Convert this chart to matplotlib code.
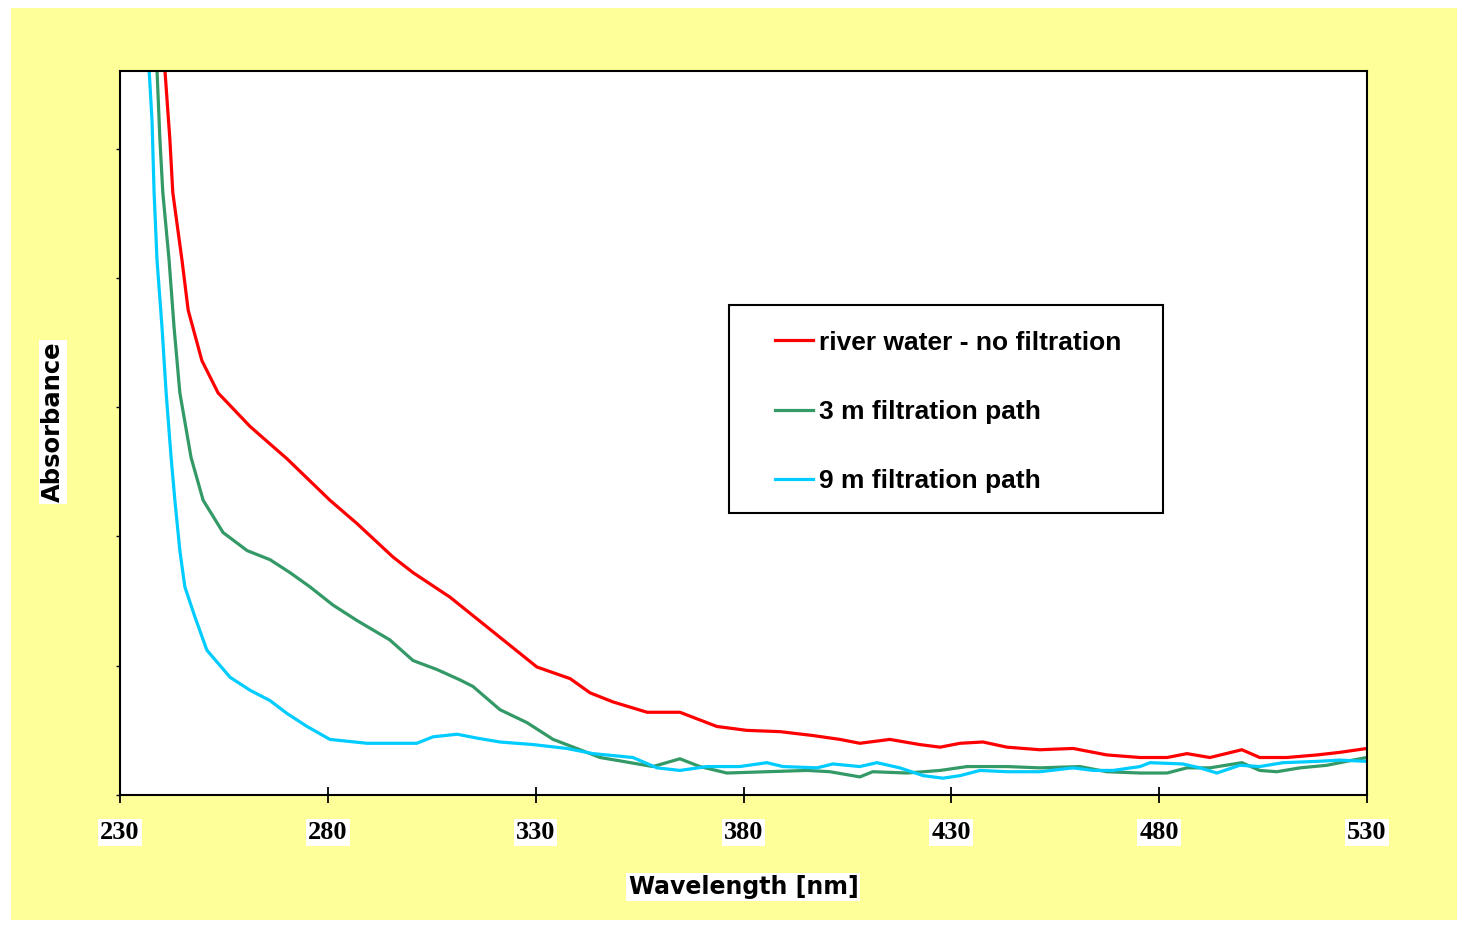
import matplotlib
matplotlib.use("Agg")
import matplotlib.pyplot as plt
from matplotlib.patches import Rectangle

# Absorbance spectra (arbitrary units, 0.1 per y tick)
wl_river = [240.3, 240.8, 242.0, 242.7, 244.9, 246.4, 249.7, 253.6, 261.3, 270.2,
            280.5, 287.0, 295.7, 300.5, 309.4, 321.4, 330.3, 338.3, 343.1, 348.6,
            356.8, 364.7, 373.6, 380.8, 388.8, 396.7, 403.2, 408.0, 415.2, 422.4,
            427.3, 432.1, 437.6, 443.4, 451.3, 459.3, 467.4, 475.4, 481.9, 486.7,
            492.2, 499.9, 504.2, 510.7, 518.0, 523.5, 530.0]
abs_river = [0.600, 0.561, 0.507, 0.466, 0.414, 0.375, 0.336, 0.311, 0.285, 0.260,
             0.228, 0.210, 0.184, 0.172, 0.153, 0.122, 0.099, 0.090, 0.079, 0.072,
             0.064, 0.064, 0.053, 0.050, 0.049, 0.046, 0.043, 0.040, 0.043, 0.039,
             0.037, 0.040, 0.041, 0.037, 0.035, 0.036, 0.031, 0.029, 0.029, 0.032,
             0.029, 0.035, 0.029, 0.029, 0.031, 0.033, 0.036]

wl_3m = [238.4, 238.9, 239.6, 240.3, 241.8, 243.0, 244.4, 247.1, 250.0, 254.8,
         260.6, 266.1, 270.9, 275.7, 281.2, 287.0, 294.9, 300.5, 306.3, 311.8,
         314.9, 321.4, 327.9, 334.2, 340.7, 345.5, 351.0, 358.2, 364.7, 369.5,
         376.0, 385.6, 395.3, 400.8, 408.0, 411.1, 419.3, 427.3, 433.8, 443.4,
         451.3, 460.9, 467.4, 475.4, 481.9, 486.7, 492.2, 499.9, 504.2, 508.3,
         513.9, 520.4, 526.6, 530.0]
abs_3m = [0.600, 0.561, 0.507, 0.466, 0.414, 0.362, 0.311, 0.261, 0.228, 0.203,
          0.189, 0.182, 0.172, 0.161, 0.147, 0.135, 0.120, 0.104, 0.097, 0.089,
          0.084, 0.066, 0.056, 0.043, 0.035, 0.029, 0.026, 0.022, 0.028, 0.022,
          0.017, 0.018, 0.019, 0.018, 0.014, 0.018, 0.017, 0.019, 0.022, 0.022,
          0.021, 0.022, 0.018, 0.017, 0.017, 0.021, 0.021, 0.025, 0.019, 0.018,
          0.021, 0.023, 0.027, 0.029]

wl_9m = [236.6, 237.0, 237.7, 238.2, 238.9, 240.1, 241.1, 242.3, 243.2, 244.4,
         245.6, 248.0, 250.9, 256.5, 261.3, 266.1, 270.2, 275.0, 280.5, 289.4,
         301.4, 305.3, 311.1, 315.9, 321.4, 329.4, 337.5, 343.8, 353.4, 359.2,
         364.7, 371.2, 379.1, 385.6, 389.5, 397.7, 401.5, 408.0, 412.1, 417.6,
         423.2, 428.0, 432.1, 436.9, 443.4, 451.3, 459.3, 464.1, 468.9, 475.4,
         477.8, 485.7, 489.8, 493.9, 499.4, 504.2, 509.8, 518.0, 523.5, 530.0]
abs_9m = [0.600, 0.561, 0.522, 0.466, 0.414, 0.362, 0.311, 0.261, 0.228, 0.189,
          0.161, 0.138, 0.112, 0.091, 0.081, 0.073, 0.063, 0.053, 0.043, 0.040,
          0.040, 0.045, 0.047, 0.044, 0.041, 0.039, 0.036, 0.032, 0.029, 0.021,
          0.019, 0.022, 0.022, 0.025, 0.022, 0.021, 0.024, 0.022, 0.025, 0.021,
          0.015, 0.013, 0.015, 0.019, 0.018, 0.018, 0.021, 0.019, 0.019, 0.022,
          0.025, 0.024, 0.021, 0.017, 0.023, 0.022, 0.025, 0.026, 0.027, 0.026]

series_labels = ["river water - no filtration", "3 m filtration path", "9 m filtration path"]
series_colors = ["#FF0000", "#339966", "#00CCFF"]
x_ticks = [230, 280, 330, 380, 430, 480, 530]
y_ticks = [0.0, 0.1, 0.2, 0.3, 0.4, 0.5]

W, H = 1457, 925
fig = plt.figure(figsize=(W / 100, H / 100), dpi=100)
fig.patch.set_facecolor("white")

# yellow chart area behind the axes
fig.add_artist(Rectangle((11 / W, 1 - 920 / H), 1 - 11 / W, (920 - 8) / H,
                         transform=fig.transFigure, facecolor="#FFFF99",
                         edgecolor="none", zorder=-10))

ax = fig.add_axes([120 / W, 1 - 795 / H, (1367 - 120) / W, (795 - 71) / H])
ax.set_zorder(1)
ax.set_facecolor("white")

for wl, ab, lab, col in zip([wl_river, wl_3m, wl_9m], [abs_river, abs_3m, abs_9m],
                            series_labels, series_colors):
    ax.plot(wl, ab, color=col, lw=2.3, label=lab, solid_joinstyle="miter")

ax.set_xlim(230, 530)
ax.set_ylim(0, 0.56)
ax.set_xticks(x_ticks)
ax.set_xticklabels([str(t) for t in x_ticks])
ax.set_yticks(y_ticks)
ax.set_yticklabels([])

for s in ax.spines.values():
    s.set_linewidth(1.5)
    s.set_color("black")

ax.tick_params(axis="x", direction="inout", length=11, width=1.3, pad=13,
               labelsize=19, colors="black")
ax.tick_params(axis="y", direction="out", length=3, width=1, colors="black")
for t in ax.get_xticklabels():
    t.set_fontfamily("Liberation Serif")
    t.set_fontweight("bold")
    t.set_bbox(dict(facecolor="white", edgecolor="none", pad=1.5))

ax.set_xlabel("Wavelength [nm]", fontsize=17, fontweight="bold", family="DejaVu Sans",
              va="center", bbox=dict(facecolor="white", edgecolor="none", pad=1.5))
ax.xaxis.set_label_coords(0.5, (795 - 887) / 724)
ax.set_ylabel("Absorbance", fontsize=17.5, fontweight="bold", family="DejaVu Sans",
              va="center", bbox=dict(facecolor="white", edgecolor="none", pad=1.5))
ax.yaxis.set_label_coords((53 - 120) / 1247, (795 - 422) / 724)

# legend box
x0, x1 = (729 - 120) / 1247, (1163 - 120) / 1247
y0, y1 = (795 - 513) / 724, (795 - 305) / 724
ax.add_patch(Rectangle((x0, y0), x1 - x0, y1 - y0, transform=ax.transAxes,
                       facecolor="white", edgecolor="black", lw=1.5, zorder=5))
leg = ax.legend(loc="center",
                bbox_to_anchor=((x0 + x1) / 2 + 2 / 1247, (y0 + y1) / 2 - 3 / 724),
                frameon=False, prop={"family": "Liberation Sans", "weight": "bold", "size": 19},
                handlelength=1.45, handletextpad=0.2, labelspacing=1.72)
leg.set_zorder(6)

fig.savefig("out.png", dpi=100, facecolor="white")
